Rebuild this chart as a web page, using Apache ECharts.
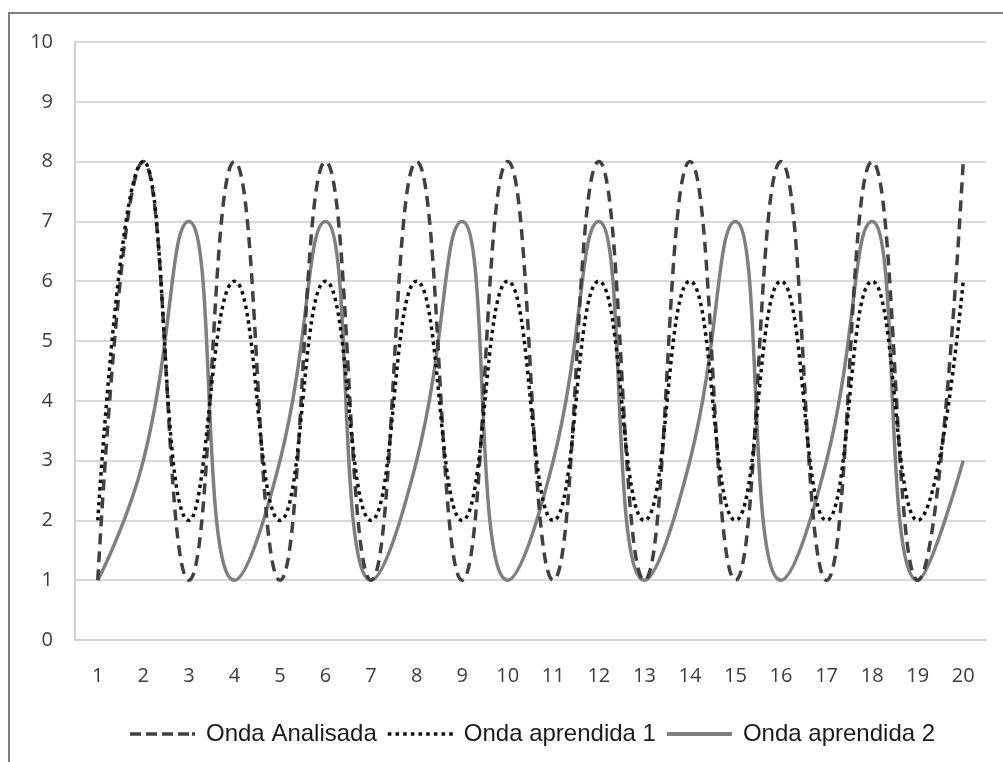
<!DOCTYPE html>
<html>
<head>
<meta charset="utf-8">
<script src="https://cdn.jsdelivr.net/npm/echarts@6/dist/echarts.min.js"></script>
<style>html,body{margin:0;padding:0;background:#fff}#c{width:1003px;height:762px}</style>
</head>
<body>
<div id="c"></div>
<script>
const categories = ['1','2','3','4','5','6','7','8','9','10','11','12','13','14','15','16','17','18','19','20'];
const ondaAnalisada = [1,8,1,8,1,8,1,8,1,8,1,8,1,8,1,8,1,8,1,8];
const ondaAprendida1 = [2,8,2,6,2,6,2,6,2,6,2,6,2,6,2,6,2,6,2,6];
const ondaAprendida2 = [1,3,7,1,3,7,1,3,7,1,3,7,1,3,7,1,3,7,1,3];
const seriesNames = ['Onda Analisada','Onda aprendida 1','Onda aprendida 2'];

const dashIcon = 'path://M0,0h11v3.5h-11z M16,0h11v3.5h-11z M32,0h11v3.5h-11z M48,0h11v3.5h-11z M62,0h3v3.5h-3z';
let dots = '';
for (let i = 0; i < 9; i++) { dots += 'M' + (i*7.5) + ',0h3.5v3.5h-3.5z '; }
const dotIcon = 'path://' + dots.trim();
const solidIcon = 'path://M0,0h65v4h-65z';

const chart = echarts.init(document.getElementById('c'), null, {renderer:'canvas'});
const axisFont = {fontFamily:'Open Sans', fontSize:20, color:'#3c3c3c'};
chart.setOption({
  animation:false,
  backgroundColor:'#fff',
  graphic:[{type:'rect', shape:{x:9,y:13,width:1100,height:900}, style:{fill:'none', stroke:'#7f7f7f', lineWidth:2}, silent:true, z:-1}],
  grid:{left:75, right:17, top:42, bottom:122},
  legend:{
    left:125, top:717, itemWidth:65, itemHeight:4, itemGap:11,
    textStyle:{fontFamily:'Liberation Sans', fontSize:24, color:'#1a1a1a', padding:[0,0,0,6]},
    data:[
      {name:seriesNames[0], icon:dashIcon, itemStyle:{color:'#404040'}},
      {name:seriesNames[1], icon:dotIcon, itemStyle:{color:'#111111'}},
      {name:seriesNames[2], icon:solidIcon, itemStyle:{color:'#7f7f7f'}}
    ]
  },
  xAxis:{
    type:'category', data:categories, boundaryGap:true,
    axisLine:{lineStyle:{color:'#d0d0d0', width:2}},
    axisTick:{show:false},
    axisLabel:Object.assign({margin:26}, axisFont)
  },
  yAxis:{
    type:'value', min:0, max:10, interval:1,
    axisLine:{show:true, lineStyle:{color:'#d0d0d0', width:2}},
    axisTick:{show:false},
    splitLine:{lineStyle:{color:'#d9d9d9', width:2}},
    axisLabel:Object.assign({margin:22}, axisFont)
  },
  series:[
    {name:seriesNames[0], type:'line', data:ondaAnalisada, smooth:0.5, symbol:'none', z:3,
     lineStyle:{color:'#404040', width:3.5, type:[11,7]}, itemStyle:{color:'#404040'}},
    {name:seriesNames[1], type:'line', data:ondaAprendida1, smooth:0.5, symbol:'none', z:4,
     lineStyle:{color:'#111', width:3.5, type:[3.5,4]}, itemStyle:{color:'#111'}},
    {name:seriesNames[2], type:'line', data:ondaAprendida2, smooth:0.5, symbol:'none', z:2,
     lineStyle:{color:'#7f7f7f', width:3.5}, itemStyle:{color:'#7f7f7f'}}
  ]
});
</script>
</body>
</html>
